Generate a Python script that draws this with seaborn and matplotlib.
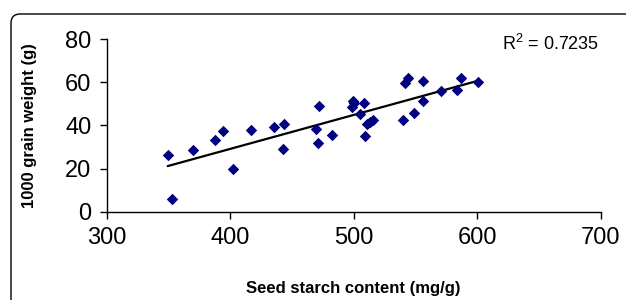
import numpy as np
import pandas as pd
import matplotlib
matplotlib.use("Agg")
import matplotlib.pyplot as plt
import seaborn as sns
from matplotlib.path import Path
from matplotlib.patches import PathPatch

starch = [349.4, 353.1, 369.6, 387.9, 394.2, 402.5, 416.8, 435.2, 443.3, 442.5,
          469.2, 472.1, 471.1, 482.4, 499.7, 500.2, 498.9, 508.3, 505.1, 509.1,
          511.0, 515.4, 513.2, 540.2, 549.1, 541.5, 544.2, 556.4, 556.4, 570.7,
          583.9, 587.2, 600.7]
grain_weight = [26.1, 6.0, 28.4, 33.2, 37.4, 19.6, 37.8, 39.1, 40.8, 29.0,
                38.3, 49.0, 32.0, 35.5, 51.3, 50.2, 48.4, 50.2, 45.3, 34.9,
                40.6, 42.5, 41.7, 42.5, 45.6, 59.5, 62.1, 60.7, 51.3, 56.0,
                56.4, 61.8, 60.1]
x_ticks = [300, 400, 500, 600, 700]
y_ticks = [0, 20, 40, 60, 80]
r2_label = "R$^2$ = 0.7235"

df = pd.DataFrame({"starch": starch, "weight": grain_weight})

sns.set_style("white")
plt.rcParams["font.family"] = ["Liberation Sans", "DejaVu Sans"]
plt.rcParams["mathtext.fontset"] = "custom"
plt.rcParams["mathtext.rm"] = "Liberation Sans"

W, H = 626, 300
fig = plt.figure(figsize=(W / 100, H / 100), dpi=100)
ax = fig.add_axes([106.7 / W, 1 - 211.7 / H, (600.7 - 106.7) / W, (211.7 - 39) / H])

sns.regplot(data=df, x="starch", y="weight", ax=ax, ci=None, marker="D",
            scatter_kws=dict(color="#000080", s=34, linewidths=0, alpha=1, zorder=3),
            line_kws=dict(color="black", lw=1.6, zorder=2))

ax.set_xlim(300, 700)
ax.set_ylim(0, 80)
ax.set_xticks(x_ticks)
ax.set_yticks(y_ticks)
ax.tick_params(axis="both", direction="out", length=5, width=1, colors="black",
               labelsize=17, bottom=True, left=True, pad=6)
for s in ["top", "right"]:
    ax.spines[s].set_visible(False)
for s in ["left", "bottom"]:
    ax.spines[s].set_color("black")
    ax.spines[s].set_linewidth(1)

ax.set_xlabel("Seed starch content (mg/g)", fontsize=12, fontweight="bold",
              labelpad=23, color="black")
ax.set_ylabel("1000 grain weight (g)", fontsize=12, fontweight="bold",
              labelpad=20, color="black")

fig.text(502 / W, 1 - 50 / H, r2_label, fontsize=13, ha="left", va="baseline",
         color="black")

# outer chart frame (top-left rounded corner, cropped at right and bottom)
r = 9
verts = [(11, H), (11, 14 + r), (11, 14), (11 + r, 14), (W, 14)]
codes = [Path.MOVETO, Path.LINETO, Path.CURVE3, Path.CURVE3, Path.LINETO]
verts_fig = [(x / W, 1 - y / H) for x, y in verts]
frame = PathPatch(Path(verts_fig, codes), transform=fig.transFigure, fill=False,
                  edgecolor="black", linewidth=1)
fig.add_artist(frame)

fig.savefig("out.png", dpi=100)
